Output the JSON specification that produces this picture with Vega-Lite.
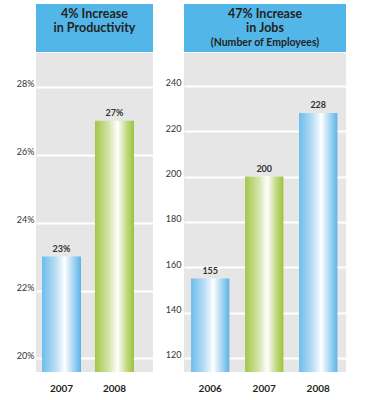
{
  "$schema": "https://vega.github.io/schema/vega-lite/v6.json",
  "padding": {"left": 16, "top": 4, "right": 5, "bottom": 5},
  "background": "white",
  "bounds": "flush",
  "columns": 2,
  "spacing": {"row": 1, "column": 31},
  "config": {"font": "Lato", "view": {"stroke": null}},
  "concat": [
    {
      "width": 117,
      "height": 48,
      "view": {"fill": "#52b6e8", "stroke": null},
      "data": {"values": [{"line1": "4% Increase", "line2": "in Productivity"}]},
      "layer": [
        {"mark": {"type": "text", "fontSize": 12.5, "fontWeight": "bold", "color": "#231f20", "baseline": "middle", "dy": -14}, "encoding": {"text": {"field": "line1"}}},
        {"mark": {"type": "text", "fontSize": 12.5, "fontWeight": "bold", "color": "#231f20", "baseline": "middle", "dy": 0}, "encoding": {"text": {"field": "line2"}}}
      ]
    },
    {
      "width": 162,
      "height": 48,
      "view": {"fill": "#52b6e8", "stroke": null},
      "data": {"values": [{"line1": "47% Increase", "line2": "in Jobs", "line3": "(Number of Employees)"}]},
      "layer": [
        {"mark": {"type": "text", "fontSize": 12.5, "fontWeight": "bold", "color": "#231f20", "baseline": "middle", "dy": -14}, "encoding": {"text": {"field": "line1"}}},
        {"mark": {"type": "text", "fontSize": 12.5, "fontWeight": "bold", "color": "#231f20", "baseline": "middle", "dy": 0}, "encoding": {"text": {"field": "line2"}}},
        {"mark": {"type": "text", "fontSize": 10.5, "fontWeight": "bold", "color": "#231f20", "baseline": "middle", "dy": 15}, "encoding": {"text": {"field": "line3"}}}
      ]
    },
    {
      "width": 117,
      "height": 319,
      "view": {"fill": "#e6e6e6", "stroke": null},
      "data": {"values": [{"year": "2007", "value": 0.23}, {"year": "2008", "value": 0.27}]},
      "encoding": {
        "x": {"field": "year", "type": "nominal", "scale": {"paddingInner": 0.264, "paddingOuter": 0.236, "align": 0.24},
          "axis": {"title": null, "labelAngle": 0, "ticks": false, "domain": false, "labelPadding": 11, "labelFontSize": 10, "labelFontWeight": "bold", "labelColor": "#231f20"}},
        "y": {"field": "value", "type": "quantitative", "scale": {"domain": [0.196, 0.29], "nice": false, "zero": false},
          "axis": {"title": null, "values": [0.2, 0.22, 0.24, 0.26, 0.28], "format": ".0%", "ticks": false, "domain": false, "labelPadding": 2, "labelFontSize": 9, "labelColor": "#333333", "labelBaseline": "alphabetic", "gridColor": "#ffffff", "gridWidth": 2, "gridOpacity": 1}}
      },
      "layer": [
        {"transform": [{"filter": "datum.year == '2007'"}],
         "mark": {"type": "bar", "fill": {"gradient": "linear", "x1": 0, "y1": 0, "x2": 1, "y2": 0, "stops": [{"offset": 0, "color": "#6cbdec"}, {"offset": 0.35, "color": "#b9def5"}, {"offset": 0.58, "color": "#ffffff"}, {"offset": 0.8, "color": "#a8d6f3"}, {"offset": 1, "color": "#5cb3e8"}]}},
         "encoding": {"y2": {"datum": 0.196}}},
        {"transform": [{"filter": "datum.year == '2008'"}],
         "mark": {"type": "bar", "fill": {"gradient": "linear", "x1": 0, "y1": 0, "x2": 1, "y2": 0, "stops": [{"offset": 0, "color": "#a4c64a"}, {"offset": 0.35, "color": "#d3e4a6"}, {"offset": 0.58, "color": "#ffffff"}, {"offset": 0.8, "color": "#c5dc8a"}, {"offset": 1, "color": "#9cc23c"}]}},
         "encoding": {"y2": {"datum": 0.196}}},
        {"mark": {"type": "text", "baseline": "middle", "dy": -8, "fontSize": 9, "fontWeight": "bold", "color": "#333333"},
         "encoding": {"text": {"field": "value", "format": ".0%"}}}
      ]
    },
    {
      "width": 162,
      "height": 319,
      "view": {"fill": "#e6e6e6", "stroke": null},
      "data": {"values": [{"year": "2006", "value": 155}, {"year": "2007", "value": 200}, {"year": "2008", "value": 228}]},
      "encoding": {
        "x": {"field": "year", "type": "nominal", "scale": {"paddingInner": 0.29, "paddingOuter": 0.145, "align": 0.45},
          "axis": {"title": null, "labelAngle": 0, "ticks": false, "domain": false, "labelPadding": 11, "labelFontSize": 10, "labelFontWeight": "bold", "labelColor": "#231f20"}},
        "y": {"field": "value", "type": "quantitative", "scale": {"domain": [113.8, 254.5], "nice": false, "zero": false},
          "axis": {"title": null, "values": [120, 140, 160, 180, 200, 220, 240], "ticks": false, "domain": false, "labelPadding": 3, "labelFontSize": 9, "labelColor": "#333333", "labelBaseline": "alphabetic", "gridColor": "#ffffff", "gridWidth": 2, "gridOpacity": 1}}
      },
      "layer": [
        {"transform": [{"filter": "datum.year != '2007'"}],
         "mark": {"type": "bar", "fill": {"gradient": "linear", "x1": 0, "y1": 0, "x2": 1, "y2": 0, "stops": [{"offset": 0, "color": "#6cbdec"}, {"offset": 0.35, "color": "#b9def5"}, {"offset": 0.58, "color": "#ffffff"}, {"offset": 0.8, "color": "#a8d6f3"}, {"offset": 1, "color": "#5cb3e8"}]}},
         "encoding": {"y2": {"datum": 113.8}}},
        {"transform": [{"filter": "datum.year == '2007'"}],
         "mark": {"type": "bar", "fill": {"gradient": "linear", "x1": 0, "y1": 0, "x2": 1, "y2": 0, "stops": [{"offset": 0, "color": "#a4c64a"}, {"offset": 0.35, "color": "#d3e4a6"}, {"offset": 0.58, "color": "#ffffff"}, {"offset": 0.8, "color": "#c5dc8a"}, {"offset": 1, "color": "#9cc23c"}]}},
         "encoding": {"y2": {"datum": 113.8}}},
        {"mark": {"type": "text", "baseline": "middle", "dy": -8, "fontSize": 9, "fontWeight": "bold", "color": "#333333"},
         "encoding": {"text": {"field": "value", "type": "quantitative"}}}
      ]
    }
  ]
}
